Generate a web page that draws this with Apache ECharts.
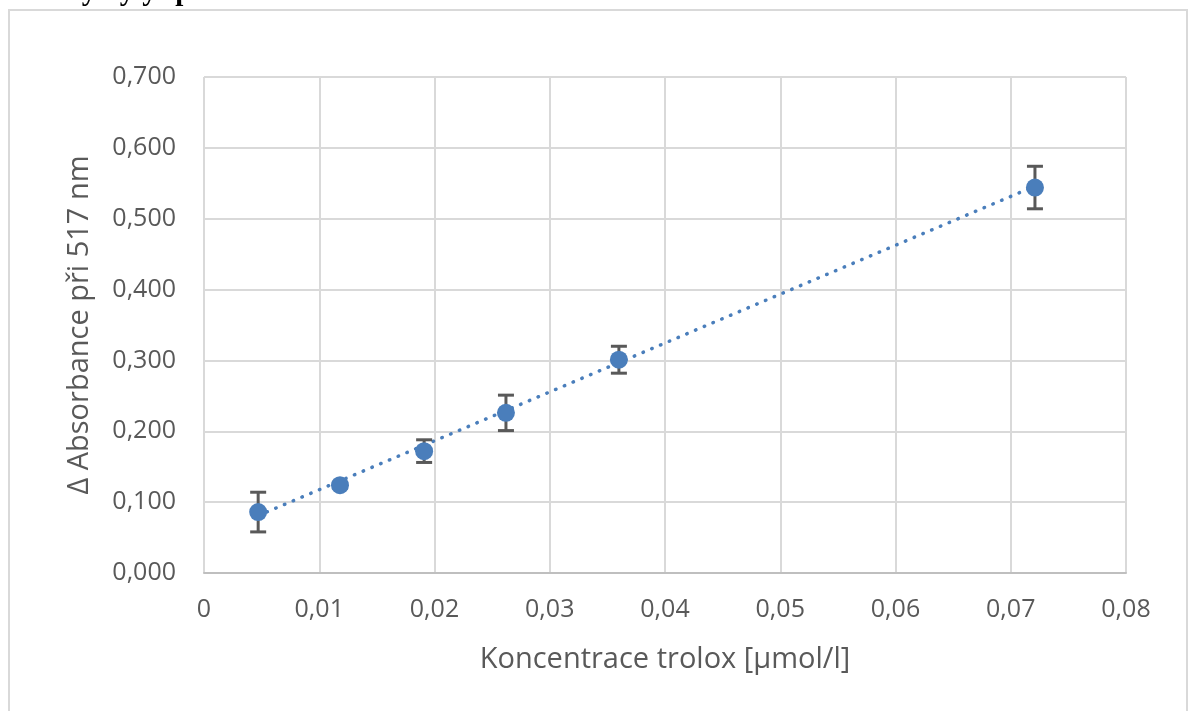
<!DOCTYPE html>
<html>
<head>
<meta charset="utf-8">
<script src="https://cdn.jsdelivr.net/npm/echarts@6/dist/echarts.min.js"></script>
<style>
html,body{margin:0;padding:0;background:#fff;}
#c{width:1194px;height:711px;}
</style>
</head>
<body>
<div id="c"></div>
<script>
// Data
const conc = [0.0047, 0.0118, 0.0191, 0.0262, 0.0360, 0.0721];
const absorb = [0.086, 0.124, 0.172, 0.226, 0.301, 0.544];
const errs = [0.028, 0.004, 0.016, 0.025, 0.019, 0.030];
// Linear trendline endpoints as drawn in the reference
const trendX = [0.0047, 0.0721];
const trendY = [0.081, 0.546];
const xTicks = [0, 0.01, 0.02, 0.03, 0.04, 0.05, 0.06, 0.07, 0.08];
const yTicks = [0, 0.1, 0.2, 0.3, 0.4, 0.5, 0.6, 0.7];

const points = conc.map((x, i) => [x, absorb[i]]);
const errData = conc.map((x, i) => [x, absorb[i], errs[i]]);
const trendData = trendX.map((x, i) => [x, trendY[i]]);

const labelColor = '#595959';
const font = '"Open Sans", sans-serif';

const chart = echarts.init(document.getElementById('c'), null, {renderer: 'canvas'});
chart.setOption({
  animation: false,
  backgroundColor: '#ffffff',
  graphic: [
    {type: 'rect', shape: {x: 9, y: 10, width: 1178, height: 720},
     style: {fill: 'none', stroke: '#d9d9d9', lineWidth: 2}, z: -10},
    {type: 'text', left: 40, top: -22, z: -20,
     style: {text: 'ředy byly spravené.', font: 'bold 29px "Liberation Serif", serif', fill: '#000'}}
  ],
  grid: {left: 204, right: 68, top: 77, bottom: 138},
  xAxis: {
    type: 'value', min: 0, max: 0.08, interval: 0.01,
    name: 'Koncentrace trolox [µmol/l]',
    nameLocation: 'middle', nameGap: 72,
    nameTextStyle: {color: labelColor, fontSize: 29, fontFamily: font},
    axisLine: {show: true, lineStyle: {color: '#bfbfbf', width: 2}},
    axisTick: {show: false},
    splitLine: {show: true, lineStyle: {color: '#d9d9d9', width: 2}},
    axisLabel: {color: labelColor, fontSize: 25, fontFamily: font, margin: 24,
      formatter: v => { const t = xTicks.find(k => Math.abs(k - v) < 1e-9); return t === 0 ? '0' : String(+t.toFixed(2)).replace('.', ','); }}
  },
  yAxis: {
    type: 'value', min: 0, max: 0.7, interval: 0.1,
    name: 'Δ Absorbance při 517 nm',
    nameLocation: 'middle', nameGap: 110, nameRotate: 90,
    nameTextStyle: {color: labelColor, fontSize: 29, fontFamily: font},
    axisLine: {show: false},
    axisTick: {show: false},
    splitLine: {show: true, lineStyle: {color: '#d9d9d9', width: 2}},
    axisLabel: {color: labelColor, fontSize: 25, fontFamily: font, margin: 28,
      formatter: v => { const t = yTicks.find(k => Math.abs(k - v) < 1e-9); return t.toFixed(3).replace('.', ','); }}
  },
  series: [
    {
      type: 'line', data: trendData, symbol: 'none', z: 2,
      lineStyle: {color: '#4a7ebb', width: 3.5, type: [0.5, 9], cap: 'round'}
    },
    {
      type: 'custom', data: errData, z: 3,
      renderItem: function (params, api) {
        const x = api.value(0), y = api.value(1), e = api.value(2);
        const top = api.coord([x, y + e]);
        const bot = api.coord([x, y - e]);
        const hw = 8;
        const st = {stroke: '#595959', lineWidth: 3};
        return {type: 'group', children: [
          {type: 'line', shape: {x1: top[0], y1: top[1], x2: bot[0], y2: bot[1]}, style: st},
          {type: 'line', shape: {x1: top[0] - hw, y1: top[1], x2: top[0] + hw, y2: top[1]}, style: st},
          {type: 'line', shape: {x1: bot[0] - hw, y1: bot[1], x2: bot[0] + hw, y2: bot[1]}, style: st}
        ]};
      }
    },
    {
      type: 'scatter', data: points, symbol: 'circle', symbolSize: 18, z: 4,
      itemStyle: {color: '#4a7ebb', opacity: 1}
    }
  ]
});
</script>
</body>
</html>
